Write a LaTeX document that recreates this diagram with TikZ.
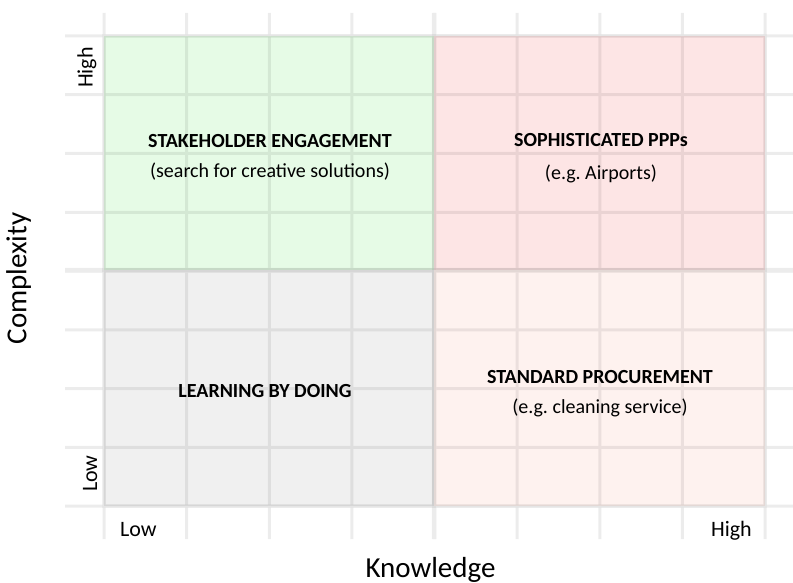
\documentclass[tikz,border=0pt]{standalone}
\usepackage{fontspec}
\setmainfont{Carlito}
\definecolor{stakegreen}{RGB}{230,251,230}
\definecolor{ppppink}{RGB}{253,229,229}
\definecolor{learngray}{RGB}{240,240,240}
\definecolor{procpeach}{RGB}{254,242,239}

\begin{document}
\begin{tikzpicture}[x=1pt, y=-1pt,
    quad/.style={draw=black, draw opacity=0.03, line width=4},
    gridline/.style={draw=black, line width=3},
    every node/.style={inner sep=0, font=\fontsize{20}{24}\selectfont},
    title/.style={anchor=base, font=\fontsize{20}{24}\selectfont\bfseries},
    sub/.style={anchor=base},
    tick/.style={font=\fontsize{22}{26}\selectfont},
    axis/.style={anchor=base, font=\fontsize{29}{34}\selectfont}]
  \useasboundingbox (0,0) rectangle (793,583);
  % quadrants
  \filldraw[quad, fill=stakegreen] (104,36) rectangle (434,270);
  \filldraw[quad, fill=ppppink] (434,36) rectangle (765,270);
  \filldraw[quad, fill=learngray] (104,270) rectangle (434,506);
  \filldraw[quad, fill=procpeach] (434,270) rectangle (765,506);
  % grid
  \begin{scope}[transparency group, opacity=0.075]
    \foreach \i in {0,...,8} {
      \draw[gridline] ({104+82.625*\i},13) -- ({104+82.625*\i},539);
      \draw[gridline] (65,{36+58.75*\i}) -- (793,{36+58.75*\i});
    }
    \draw[gridline, line width=4.5] (434,13) -- (434,539);
    \draw[gridline, line width=4.5] (65,270) -- (793,270);
  \end{scope}
  % quadrant labels
  \node[title] (stake) at (270,148) {STAKEHOLDER ENGAGEMENT};
  \node[sub] (stakesub) at (270,178) {(search for creative solutions)};
  \node[title] (ppp) at (601,147) {SOPHISTICATED PPPs};
  \node[sub] (pppsub) at (601,179) {(e.g.\ Airports)};
  \node[title] (learn) at (265,397) {LEARNING BY DOING};
  \node[title] (proc) at (600,383) {STANDARD PROCUREMENT};
  \node[sub] (procsub) at (600,413) {(e.g.\ cleaning service)};
  % ticks
  \node[tick, anchor=base west] (xlow) at (120,536) {Low};
  \node[tick, anchor=base east] (xhigh) at (752,536) {High};
  \node[tick, rotate=90, anchor=base east] (yhigh) at (92.5,47) {High};
  \node[tick, rotate=90, anchor=base west] (ylow) at (97,492) {Low};
  % axes
  \node[axis, rotate=90] (complexity) at (26.5,278.5) {Complexity};
  \node[axis] (knowledge) at (430.5,577) {Knowledge};
\end{tikzpicture}
\end{document}
